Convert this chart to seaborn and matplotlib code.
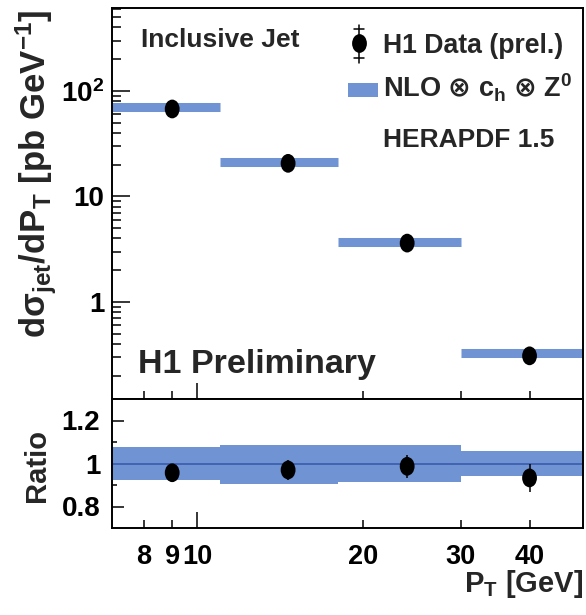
import numpy as np
import pandas as pd
import matplotlib
matplotlib.use("Agg")
import matplotlib.pyplot as plt
import seaborn as sns
from matplotlib.path import Path
from matplotlib.markers import MarkerStyle
from matplotlib.transforms import Affine2D
from matplotlib.patches import Rectangle
from matplotlib.ticker import LogLocator, NullFormatter, FixedLocator

# P_T bins [GeV]
bin_low = [7, 11, 18, 30]
bin_high = [11, 18, 30, 50]
pt_centre = [9.0, 14.6, 24.0, 40.0]

# inclusive jet cross sections [pb/GeV]
nlo_xsec = [70.5, 21.2, 3.66, 0.33]
data_xsec = [67.5, 20.6, 3.61, 0.308]
data_xsec_err = [2.0, 0.93, 0.19, 0.02]

# data / theory
ratio = [0.957, 0.970, 0.987, 0.933]
ratio_err = [0.030, 0.045, 0.054, 0.065]
band_up = [1.075, 1.088, 1.088, 1.058]
band_down = [0.925, 0.905, 0.915, 0.944]
band_centre = [1.0, 1.0, 1.0, 1.0]

# axis ticks
y_ticks = [1, 10, 100]
y_ticklabels = ["1", "10", "10$^{2}$"]
ratio_ticks = [0.8, 1.0, 1.2]
ratio_ticklabels = ["0.8", "1", "1.2"]
ratio_minor = [0.9, 1.1]
x_major = [10]
x_major_labels = ["10"]
x_minor = [8, 9, 20, 30, 40]
x_minor_labels = ["8", "9", "20", "30", "40"]

BLUE = "#6f93d3"
DARK_BLUE = "#3e5fb0"

sns.set_theme(style="ticks")
plt.rcParams["font.family"] = ["Liberation Sans", "DejaVu Sans"]
plt.rcParams["font.weight"] = "bold"
plt.rcParams["mathtext.fontset"] = "dejavusans"
plt.rcParams["mathtext.default"] = "regular"
plt.rcParams["axes.linewidth"] = 1.4
plt.rcParams["axes.edgecolor"] = "black"
plt.rcParams["xtick.color"] = "black"
plt.rcParams["ytick.color"] = "black"

W, H = 586, 615
fig = plt.figure(figsize=(W / 100, H / 100), dpi=100)
fig.patch.set_facecolor("white")


def box(l, t, r, b):
    return [l / W, 1 - b / H, (r - l) / W, (b - t) / H]


ax = fig.add_axes(box(112, 8, 583, 399))
axr = fig.add_axes(box(112, 399, 583, 528), sharex=ax)

df = pd.DataFrame({
    "pt": pt_centre, "lo": bin_low, "hi": bin_high,
    "nlo": nlo_xsec, "data": data_xsec, "err": data_xsec_err,
    "ratio": ratio, "rerr": ratio_err,
    "up": band_up, "down": band_down, "centre": band_centre,
})

ellipse = MarkerStyle(Affine2D().scale(0.79, 1.0).transform_path(Path.unit_circle()))
msize = 13.5

# ---- upper panel: cross section ----
ax.hlines(df["nlo"], df["lo"], df["hi"], colors=BLUE, linewidth=6.5,
          capstyle="butt", zorder=2)
ax.errorbar(df["pt"], df["data"], yerr=df["err"], fmt="none",
            ecolor="black", elinewidth=1.1, zorder=4)
sns.scatterplot(data=df, x="pt", y="data", ax=ax, marker=ellipse,
                s=msize ** 2, color="black", edgecolor="none",
                linewidth=0, zorder=5, legend=False)

ax.set_xscale("log")
ax.set_yscale("log")
ax.set_xlim(7, 50)
ax.set_ylim(0.12, 612)
ax.set_xlabel("")
ax.set_ylabel("")
ax.set_yticks(y_ticks, labels=y_ticklabels)
ax.yaxis.set_minor_locator(LogLocator(base=10, subs=np.arange(2, 10)))
ax.yaxis.set_minor_formatter(NullFormatter())
ax.tick_params(axis="y", which="major", direction="in", length=13, width=1.1,
               labelsize=20, pad=5.5)
ax.tick_params(axis="y", which="minor", direction="in", length=6.5, width=1.1)

# ---- lower panel: ratio ----
axr.bar(df["lo"], df["up"] - df["down"], bottom=df["down"],
        width=df["hi"] - df["lo"], align="edge", color=BLUE,
        linewidth=0, zorder=1)
axr.hlines(df["centre"], df["lo"], df["hi"], colors=DARK_BLUE, linewidth=1.3,
           zorder=2)
axr.errorbar(df["pt"], df["ratio"], yerr=df["rerr"], fmt="none",
             ecolor="black", elinewidth=1.1, zorder=4)
sns.scatterplot(data=df, x="pt", y="ratio", ax=axr, marker=ellipse,
                s=msize ** 2, color="black", edgecolor="none",
                linewidth=0, zorder=5, legend=False)

axr.set_ylim(0.7, 1.3)
axr.set_xlabel("")
axr.set_ylabel("")
axr.set_yticks(ratio_ticks, labels=ratio_ticklabels)
axr.yaxis.set_minor_locator(FixedLocator(ratio_minor))
axr.tick_params(axis="y", which="major", direction="in", length=8.6, width=1.1,
                labelsize=20, pad=8.5)
axr.tick_params(axis="y", which="minor", direction="in", length=3.6, width=1.1)

axr.set_xticks(x_major, labels=x_major_labels)
axr.set_xticks(x_minor, labels=x_minor_labels, minor=True)
for a in (ax, axr):
    a.tick_params(axis="x", which="major", direction="in", length=11.5,
                  width=1.1, labelsize=19.5, pad=11.5)
    a.tick_params(axis="x", which="minor", direction="in", length=5.8,
                  width=1.1, labelsize=19.5, pad=11.5)
ax.tick_params(axis="x", which="both", labelbottom=False)
axr.set_xlim(7, 50)

# ---- annotations ----
def ax_pt(px, py):
    return ((px - 112) / 471, (399 - py) / 391)


ax.text(*ax_pt(141, 47), "Inclusive Jet", transform=ax.transAxes,
        fontsize=19, ha="left", va="baseline")
ax.text(*ax_pt(138, 373), "H1 Preliminary", transform=ax.transAxes,
        fontsize=24.5, ha="left", va="baseline")

# legend keys
mx, my = ax_pt(359, 43)
_, y_top = ax_pt(359, 25)
_, y_bot = ax_pt(359, 63)
_, cap_hi = ax_pt(359, 29)
_, cap_lo = ax_pt(359, 58)
cw = 5 / 471
ax.plot([mx, mx], [y_bot, y_top], color="black", lw=1.1,
        transform=ax.transAxes, clip_on=False)
for cy in (cap_hi, cap_lo):
    ax.plot([mx - cw, mx + cw], [cy, cy], color="black", lw=1.1,
            transform=ax.transAxes, clip_on=False)
ax.plot([mx], [my], marker=ellipse, markersize=msize, color="black",
        markeredgewidth=0, transform=ax.transAxes, clip_on=False)
rx0, ry0 = ax_pt(348, 97)
rx1, ry1 = ax_pt(378, 83)
ax.add_patch(Rectangle((rx0, ry0), rx1 - rx0, ry1 - ry0, transform=ax.transAxes,
                       facecolor=BLUE, edgecolor="none"))

ax.text(*ax_pt(383, 53), "H1 Data (prel.)", transform=ax.transAxes,
        fontsize=19.2, ha="left", va="baseline")
ax.text(*ax_pt(383, 98),
        r"NLO $\mathrm{\otimes}$ c$_{h}$ $\mathrm{\otimes}$ Z$^{0}$",
        transform=ax.transAxes, fontsize=19.5, ha="left", va="baseline")
ax.text(*ax_pt(383, 147), "HERAPDF 1.5", transform=ax.transAxes,
        fontsize=19, ha="left", va="baseline")

# axis titles
fig.text(46 / W, 1 - 10 / H, "d\u03c3$_{jet}$/dP$_{T}$ [pb GeV$^{-1}$]",
         rotation=90, rotation_mode="anchor", ha="right", va="baseline",
         fontsize=25)
fig.text(45 / W, 1 - 466 / H, "Ratio", rotation=90, rotation_mode="anchor",
         ha="center", va="baseline", fontsize=21)
fig.text(583 / W, 1 - 592 / H, "P$_{T}$ [GeV]", ha="right", va="baseline",
         fontsize=21)

fig.savefig("out.png", dpi=100, facecolor="white")
